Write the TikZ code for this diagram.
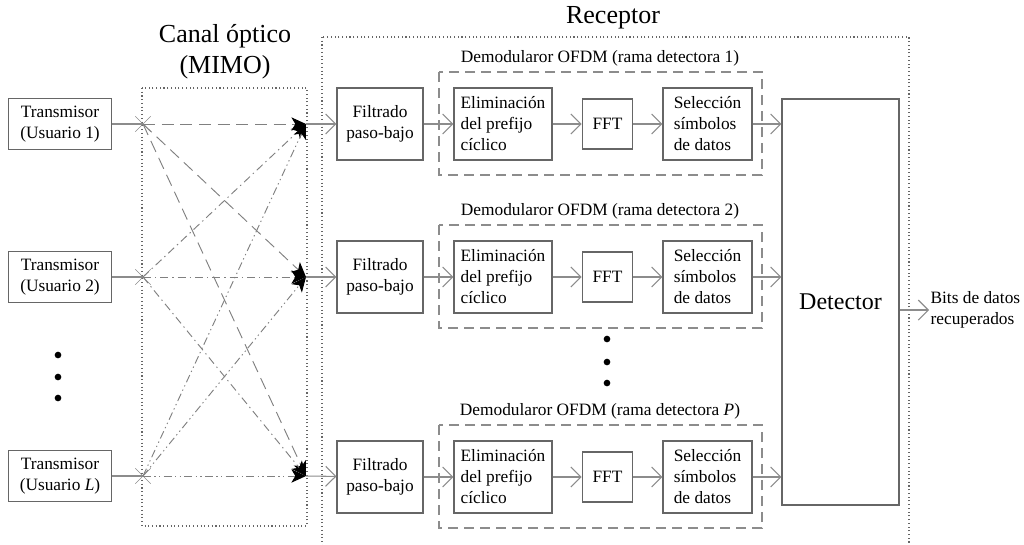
\documentclass[tikz,border=0pt]{standalone}
\usepackage{fontspec}
\setmainfont{Liberation Serif}
\usetikzlibrary{arrows.meta, positioning, shapes.misc}

\definecolor{linegray}{gray}{0.55}
\definecolor{boxgray}{gray}{0.40}

\begin{document}
\begin{tikzpicture}[
  x=0.75pt, y=-0.75pt,
  every node/.style={font=\fontsize{13}{15.75}\selectfont},
  blockbox/.style={rectangle, draw=boxgray, line width=0.9pt, fill=white,
                   align=center, inner sep=2pt, minimum height=54pt},
  txbox/.style={blockbox, minimum width=77pt, minimum height=38pt},
  bigtext/.style={font=\fontsize{19.5}{23}\selectfont, align=center},
  branchbox/.style={draw=linegray, line width=0.9pt, dash pattern=on 7.5pt off 4.5pt},
  zonebox/.style={draw=boxgray, line width=0.8pt, dotted},
  link/.style={linegray, line width=0.8pt},
  arr/.style={link, -{Straight Barb[length=7.5pt, width=15pt]}},
  chan/.style={gray, line width=0.7pt, -{Stealth[length=11pt, width=10pt, inset=3pt, black]}},
  tx1link/.style={dash pattern=on 9pt off 5pt},
  tx2link/.style={dash pattern=on 6pt off 3pt on 1pt off 3pt},
  txLlink/.style={dash pattern=on 6pt off 2.5pt on 1pt off 2.5pt on 1pt off 2.5pt},
  xmark/.style={cross out, draw=linegray, minimum size=11pt, inner sep=0pt, line width=0.5pt},
  vdot/.style={circle, fill=black, inner sep=0pt, minimum size=5pt}
]
  \useasboundingbox (0,0) rectangle (1024,544);

  % zones
  \draw[zonebox] (142,88) rectangle (307,526);
  \draw[zonebox] (322,37) rectangle (909,560);
  \node[bigtext] (chtitle) at (225,52) {Canal óptico\\(MIMO)};
  \node[bigtext] (rxtitle) at (613,18) {Receptor};

  % transmitters
  \foreach \t/\yy/\lab in {1/124/1, 2/277/2, 3/476/{\textit{L}}} {
    \node[txbox] (tx\t) at (60,\yy) {Transmisor\\(Usuario \lab)};
    \node[xmark] (cx\t) at (143,\yy) {};
    \coordinate (rx\t) at (306,\yy);
    \draw[link] (tx\t) -- (cx\t.center);
  }
  \foreach \yy [count=\k] in {355,377,398}
    \node[vdot] (tdot\k) at (58,\yy) {};

  % optical channel
  \foreach \t/\sty in {1/tx1link, 2/tx2link, 3/txLlink}
    \foreach \r in {1,2,3}
      \draw[chan, \sty] (cx\t.center) -- (rx\r);

  % detector
  \node[blockbox, minimum width=87.75pt, minimum height=304.5pt,
        font=\fontsize{18}{20}\selectfont] (det) at (840.5,302) {Detector};

  % detection branches
  \foreach \r/\yy/\lab in {1/124/1, 2/277/2, 3/477/{\textit{P}}} {
    \draw[branchbox] (439,\yy-52) rectangle (762,\yy+51);
    \node (dem\r) at (600,\yy-66) {Demodularor OFDM (rama detectora \lab)};
    \node[blockbox, minimum width=64.5pt] (flt\r) at (380,\yy) {Filtrado\\paso-bajo};
    \node[blockbox, minimum width=73.5pt, align=left] (elm\r) at (503,\yy)
      {Eliminación\\del prefijo\\cíclico};
    \node[blockbox, minimum width=38pt, minimum height=37.5pt] (fft\r) at (607.5,\yy) {FFT};
    \node[blockbox, minimum width=66.75pt, align=left] (sel\r) at (707.5,\yy)
      {Selección\\símbolos\\de datos};
    \draw[arr] (rx\r) -- (flt\r);
    \draw[arr] (flt\r) -- (elm\r);
    \draw[arr] (elm\r) -- (fft\r);
    \draw[arr] (fft\r) -- (sel\r);
    \draw[arr] (sel\r) -- (sel\r.east -| det.west);
  }
  \foreach \yy [count=\k] in {339,362,383}
    \node[vdot] (rdot\k) at (607,\yy) {};

  % output
  \node[align=left, anchor=west, inner sep=1pt] (out) at (929,310) {Bits de datos\\recuperados};
  \draw[arr] (out.west -| det.east) -- (out.west);
\end{tikzpicture}
\end{document}
